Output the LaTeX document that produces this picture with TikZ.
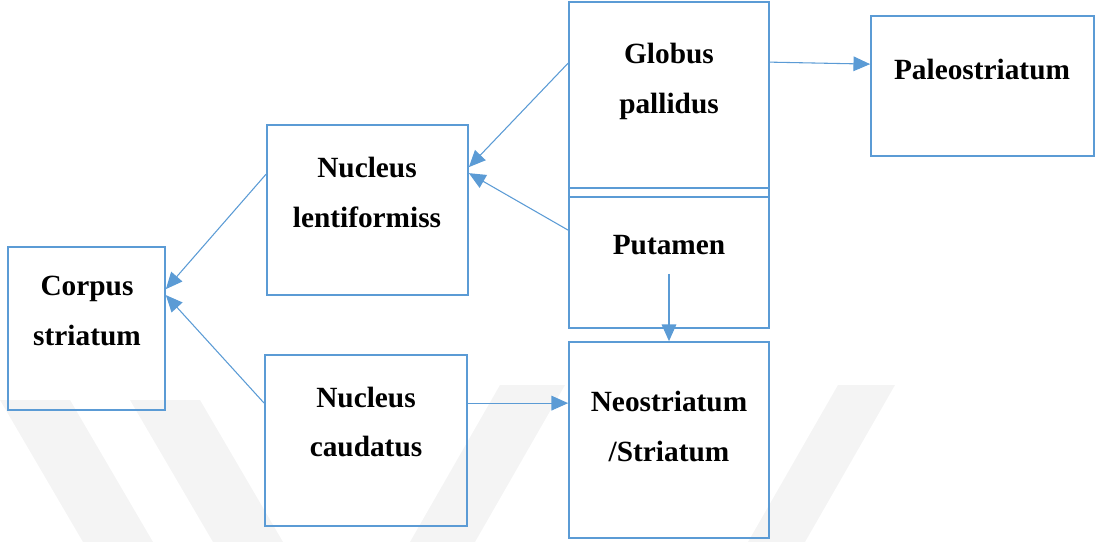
\documentclass[tikz,border=0pt]{standalone}
\usepackage{fontspec}
\setmainfont{Liberation Serif}
\usetikzlibrary{arrows.meta,fit,calc}
\definecolor{boxblue}{HTML}{5B9BD5}
\definecolor{wm}{HTML}{F4F4F4}
\begin{document}
\begin{tikzpicture}[x=0.75pt,y=-0.75pt,
  box/.style={draw=boxblue,line width=1.3pt,inner sep=0pt},
  lbl/.style={align=center,font=\fontsize{22}{37.5}\selectfont\bfseries,inner sep=0pt},
  arr/.style={draw=boxblue,line width=0.8pt,-{Triangle[length=12.5pt,width=11pt]}}]
\useasboundingbox (0,0) rectangle (1097,542);
% faint watermark
\fill[wm] (0,400) -- (70,400) -- (153,542) -- (83,542) -- cycle;
\fill[wm] (130,400) -- (200,400) -- (283,542) -- (213,542) -- cycle;
\fill[wm] (500,385) -- (565,385) -- (475,542) -- (410,542) -- cycle;
\fill[wm] (838,385) -- (895,385) -- (805,542) -- (748,542) -- cycle;
% boxes
\node[box,fit={(8,247)(165,410)}] (corpus) {};
\node[box,fit={(267,125)(468,295)}] (lent) {};
\node[box,fit={(265,355)(467,526)}] (caud) {};
\node[box,fit={(569,2)(769,197)}] (globus) {};
\node[box,fit={(569,188)(769,328)}] (putamen) {};
\node[box,fit={(569,342)(769,538)}] (neo) {};
\node[box,fit={(871,16)(1094,156)}] (paleo) {};
% labels
\node[lbl] (corpusT) at (87,311) {Corpus\\striatum};
\node[lbl] (lentT) at (367,192) {Nucleus\\lentiformiss};
\node[lbl] (caudT) at (366,422) {Nucleus\\caudatus};
\node[lbl] (globusT) at (669,81) {Globus\\pallidus};
\node[lbl] (putamenT) at (669,245) {Putamen};
\node[lbl] (neoT) at (669,426) {Neostriatum\\/Striatum};
\node[lbl] (paleoT) at (982,70) {Paleostriatum};
% connectors
\draw[arr] ($(globus.north west)+(0,62)$) -- ($(lent.north east)+(0,43)$);
\draw[arr] ($(putamen.north west)+(0,43)$) -- ($(lent.north east)+(0,49)$);
\draw[arr] ($(lent.north west)+(0,50)$) -- ($(corpus.north east)+(0,43)$);
\draw[arr] ($(caud.north west)+(0,49)$) -- ($(corpus.north east)+(0,49)$);
\draw[arr] ($(caud.north east)+(0,49)$) -- ($(neo.north west)+(0,62)$);
\draw[arr] ($(globus.north east)+(0,61)$) -- ($(paleo.north west)+(0,49)$);
\draw[arr] ($(putamen.south)+(0,-55)$) -- (neo.north);
\end{tikzpicture}
\end{document}
